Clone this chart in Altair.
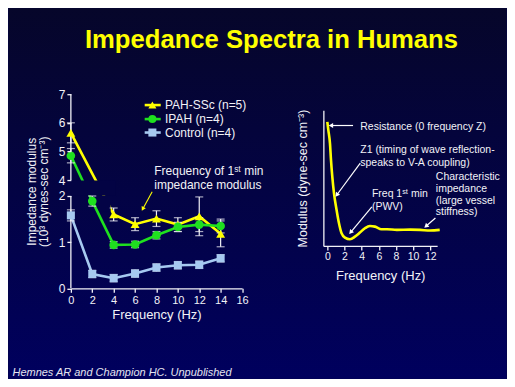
import math
import altair as alt
import pandas as pd

BG_MID = "#030344"
BG_TOP = "#06062a"
BG_BOT = "#00005e"
FONT = "Liberation Sans"
WHITE = "#f2f2f7"
C_SSC = "#ffff00"
C_IPAH = "#1fe01f"
C_CTRL = "#a6c9f0"

TITLE = "Impedance Spectra in Humans"
CITATION = "Hemnes AR and Champion HC.  Unpublished"

# ---------------- data: left chart (impedance modulus, 10^3 dynes-sec cm^-3) ----------------
ssc_f = [0, 4, 6, 8, 10, 12, 14]
ssc_v = [5.65, 1.60, 1.39, 1.51, 1.38, 1.56, 1.18]
ssc_e = [0.35, 0.14, 0.14, 0.17, 0.15, 0.42, 0.28]

ipah_f = [0, 2, 4, 6, 8, 10, 12, 14]
ipah_v = [4.85, 1.89, 0.94, 0.95, 1.15, 1.33, 1.38, 1.35]
ipah_e = [0.25, 0.11, 0.07, 0.07, 0.08, 0.10, 0.15, 0.15]

ctrl_f = [0, 2, 4, 6, 8, 10, 12, 14]
ctrl_v = [1.58, 0.31, 0.22, 0.32, 0.45, 0.50, 0.51, 0.65]
ctrl_e = [0.12, 0.08, 0.08, 0.08, 0.08, 0.08, 0.08, 0.08]

series_names = ["PAH-SSc (n=5)", "IPAH (n=4)", "Control (n=4)"]

# ---------------- data: right chart (schematic modulus spectrum) ----------------
z_f = [0, 0.12, 0.31, 0.43, 0.58, 0.78, 1.08, 1.36, 1.66, 2.06, 2.64, 3.22, 3.80,
       4.38, 4.97, 5.55, 6.31, 6.94, 8.1, 9.65, 10.8, 12.0, 13.1]
z_v = [9.14, 8.53, 7.55, 6.32, 5.10, 3.87, 2.65, 1.67, 0.93, 0.61, 0.49, 0.68, 0.98,
       1.30, 1.47, 1.42, 1.23, 1.23, 1.18, 1.20, 1.18, 1.13, 1.18]

# ---------------- left chart ----------------
LW, LH = 171.5, 194.5
y_dom = [0, 2, 4, 7]
y_rng = [194.5, 102, 86, 0]


def ypx_left(v):
    for i in range(len(y_dom) - 1):
        if y_dom[i] <= v <= y_dom[i + 1] or i == len(y_dom) - 2:
            t = (v - y_dom[i]) / (y_dom[i + 1] - y_dom[i])
            return y_rng[i] + t * (y_rng[i + 1] - y_rng[i])


def angle(x0, y0, x1, y1, xs, yf):
    dx = (x1 - x0) * xs
    dy = yf(y1) - yf(y0)
    return math.degrees(math.atan2(dx, -dy)) % 360


sxL = alt.Scale(domain=[0, 16], nice=False)
syL = alt.Scale(domain=y_dom, range=y_rng, nice=False, zero=False)
xL = alt.X("f:Q", scale=sxL,
           axis=alt.Axis(values=list(range(0, 17, 2)), tickCount=40, format="d", tickSize=4, labelPadding=2,
                         labelFontSize=11, labelFlush=False, labelOverlap=False, grid=False,
                         title="Frequency (Hz)", titleFontSize=13, titlePadding=3, zindex=1))
yL = alt.Y("v:Q", scale=syL,
           axis=alt.Axis(values=[0, 1, 2, 4, 5, 6, 7], tickCount=40, format="d", tickSize=4, labelPadding=2,
                         labelFontSize=12, labelOverlap=False, grid=False, domain=False,
                         title=["Impedance modulus", "(10³ dynes-sec cm⁻³)"],
                         titleFontSize=12, titlePadding=8, titleLineHeight=12, zindex=1))


def sdf(f, v, e):
    return pd.DataFrame({"f": f, "v": v,
                         "lo": [a - b for a, b in zip(v, e)],
                         "hi": [a + b for a, b in zip(v, e)]})


d_ssc, d_ipah, d_ctrl = sdf(ssc_f, ssc_v, ssc_e), sdf(ipah_f, ipah_v, ipah_e), sdf(ctrl_f, ctrl_v, ctrl_e)

one = pd.DataFrame({"k": [0]})
layers = []
# slide background (vertical gradient) covering the whole slide
grad = alt.LinearGradient(gradient="linear", x1=0, x2=0, y1=0, y2=1,
                          stops=[alt.GradientStop(color=BG_TOP, offset=0),
                                 alt.GradientStop(color=BG_BOT, offset=1)])
layers.append(alt.Chart(one).mark_rect(color=grad).encode(
    x=alt.value(-62.5), x2=alt.value(436.5), y=alt.value(-86), y2=alt.value(285)))

# slide title and citation
layers.append(alt.Chart(one).mark_text(text=TITLE, align="center", baseline="alphabetic", font=FONT,
                                       fontSize=25.7, fontWeight="bold", color="#ffff00").encode(
    x=alt.value(201), y=alt.value(-46)))
layers.append(alt.Chart(one).mark_text(text=CITATION, align="left", baseline="middle", font=FONT,
                                       fontSize=11, fontStyle="italic", color="#e4e4f0").encode(
    x=alt.value(-58.5), y=alt.value(279)))

# broken y-axis line (two segments)
ax_seg = pd.DataFrame({"f": [0, 0], "v": [0, 4], "v2": [2, 7]})
layers.append(alt.Chart(ax_seg).mark_rule(color=WHITE, strokeWidth=1.3).encode(x=xL, y=yL, y2="v2:Q"))

# series lines
layers.append(alt.Chart(d_ssc).mark_line(color=C_SSC, strokeWidth=2.6).encode(x=xL, y=yL))
# hide the part of the PAH-SSc line that runs below the break
mask2 = pd.DataFrame({"f": [2.0], "f2": [3.72], "v": [1.66], "v2": [2.06]})
layers.append(alt.Chart(mask2).mark_rect(color="#030346").encode(x=xL, x2="f2:Q", y=yL, y2="v2:Q"))
layers.append(alt.Chart(d_ipah).mark_line(color=C_IPAH, strokeWidth=2.6).encode(x=xL, y=yL))
layers.append(alt.Chart(d_ctrl).mark_line(color=C_CTRL, strokeWidth=2.6).encode(x=xL, y=yL))

# axis-break mask
mask = pd.DataFrame({"f": [-0.4], "f2": [4.2], "v": [2.06], "v2": [3.94]})
layers.append(alt.Chart(mask).mark_rect(color=BG_MID).encode(x=xL, x2="f2:Q", y=yL, y2="v2:Q"))

for d in [d_ssc, d_ipah, d_ctrl]:
    layers.append(alt.Chart(d).mark_rule(color=WHITE, strokeWidth=1.2).encode(
        x=xL, y=alt.Y("lo:Q", scale=syL), y2="hi:Q"))
    for col in ["lo", "hi"]:
        layers.append(alt.Chart(d).mark_tick(color=WHITE, orient="horizontal", size=8, thickness=1.2).encode(
            x=xL, y=alt.Y(f"{col}:Q", scale=syL)))

layers.append(alt.Chart(d_ssc).mark_point(shape="triangle-up", filled=True, opacity=1, size=80, color=C_SSC).encode(x=xL, y=yL))
layers.append(alt.Chart(d_ipah).mark_circle(opacity=1, size=75, color=C_IPAH).encode(x=xL, y=yL))
layers.append(alt.Chart(d_ctrl).mark_square(opacity=1, size=65, color=C_CTRL).encode(x=xL, y=yL))

# legend (drawn in plot coordinates)
leg_y = [6.62, 6.13, 5.66]
leg_c = [C_SSC, C_IPAH, C_CTRL]
leg_shape = ["triangle-up", "circle", "square"]
leg_lines = pd.DataFrame({"f": [6.9] * 3, "f2": [8.4] * 3, "m": [7.62] * 3, "t": [8.8] * 3,
                          "v": leg_y, "s": series_names})
for i in range(3):
    layers.append(alt.Chart(leg_lines.iloc[[i]]).mark_rule(color=leg_c[i], strokeWidth=2.6).encode(
        x=xL, x2="f2:Q", y=yL))
    layers.append(alt.Chart(leg_lines.iloc[[i]]).mark_point(
        shape=leg_shape[i], filled=True, opacity=1, size=65, color=leg_c[i]).encode(
        x=alt.X("m:Q", scale=sxL), y=yL))
layers.append(alt.Chart(leg_lines).mark_text(align="left", baseline="middle", fontSize=12,
                                              color=WHITE, font=FONT).encode(
    x=alt.X("t:Q", scale=sxL), y=yL, text="s:N"))

# annotation + arrow (left)
ann_l = pd.DataFrame({"f": [7.8, 7.8], "v": [4.31, 3.37],
                      "t": ["Frequency of 1ˢᵗ min", "impedance modulus"]})
layers.append(alt.Chart(ann_l).mark_text(align="left", baseline="middle", fontSize=12,
                                         color=WHITE, font=FONT).encode(x=xL, y=yL, text="t:N"))
arr_l = pd.DataFrame({"f": [7.6], "v": [2.54], "f2": [6.72], "v2": [1.72]})
arr_l["a"] = [angle(7.6, 2.54, 6.72, 1.72, 10.72, ypx_left)]
layers.append(alt.Chart(arr_l).mark_rule(color=C_SSC, strokeWidth=1.1).encode(x=xL, y=yL, x2="f2:Q", y2="v2:Q"))
layers.append(alt.Chart(arr_l).mark_point(shape="triangle-up", filled=True, opacity=1, size=22, color=C_SSC).encode(
    x=alt.X("f2:Q", scale=sxL), y=alt.Y("v2:Q", scale=syL), angle=alt.Angle("a:Q", scale=None)))

left = alt.layer(*layers).properties(width=LW, height=LH)

# ---------------- right chart ----------------
RW, RH = 114, 152
xs_r, ys_r = 8.62, 13.6
sxR = alt.Scale(domain=[-0.46, 12.8], nice=False, zero=False)
syR = alt.Scale(domain=[0, 10], range=[152, 16], nice=False, zero=False)
xR = alt.X("f:Q", scale=sxR,
           axis=alt.Axis(values=list(range(0, 13, 2)), tickCount=40, format="d", tickSize=4, labelPadding=2,
                         labelFontSize=10.5, labelFlush=False, labelOverlap=False, grid=False,
                         title="Frequency (Hz)", titleFontSize=13, titlePadding=7))
yR = alt.Y("v:Q", scale=syR,
           axis=alt.Axis(labels=False, ticks=False, grid=False, title="Modulus (dyne-sec cm⁻³)",
                         titleFontSize=12.5, titlePadding=14))

rl = [alt.Chart(pd.DataFrame({"f": z_f, "v": z_v})).mark_line(
    color=C_SSC, strokeWidth=2.6, interpolate="monotone").encode(x=xR, y=yR)]

arrows = pd.DataFrame({
    "f": [3.0, 3.84, 5.19, 12.6],
    "v": [8.87, 6.1, 2.87, 2.06],
    "f2": [0.42, 1.1, 2.72, 11.5],
    "v2": [8.87, 3.75, 1.0, 1.45],
})
arrows["a"] = [angle(r.f, r.v, r.f2, r.v2, xs_r, lambda y: -y * ys_r) for r in arrows.itertuples()]
rl.append(alt.Chart(arrows).mark_rule(color="white", strokeWidth=1.2).encode(x=xR, y=yR, x2="f2:Q", y2="v2:Q"))
rl.append(alt.Chart(arrows).mark_point(shape="triangle-up", filled=True, opacity=1, size=26, color="white").encode(
    x=alt.X("f2:Q", scale=sxR), y=alt.Y("v2:Q", scale=syR), angle=alt.Angle("a:Q", scale=None)))

ann_r = pd.DataFrame({
    "f": [3.84, 3.84, 3.84, 5.2, 5.2, 12.65, 12.65, 12.65, 12.65],
    "v": [8.75, 7.06, 6.1, 3.8, 2.87, 5.07, 4.19, 3.33, 2.5],
    "t": ["Resistance (0 frequency Z)", "Z1 (timing of wave reflection-", "speaks to V-A coupling)",
          "Freq 1ˢᵗ min", "(PWV)", "Characteristic", "impedance", "(large vessel", "stiffness)"],
})
rl.append(alt.Chart(ann_r).mark_text(align="left", baseline="middle", fontSize=10.5, color=WHITE,
                                     font=FONT).encode(x=xR, y=yR, text="t:N"))

right = alt.layer(*rl).properties(width=RW, height=RH)

chart = alt.hconcat(left, right, spacing=81, bounds="flush").configure(
    background=BG_MID, font=FONT, padding={"left": 0, "top": 0, "right": 0, "bottom": 0}
).configure_view(stroke=None
).configure_axis(domainColor=WHITE, tickColor=WHITE, labelColor=WHITE, titleColor=WHITE,
                 labelFont=FONT, titleFont=FONT, titleFontWeight="normal", domainWidth=1.3, tickWidth=1.3)

chart.save("out.html", embed_options={"renderer": "svg", "actions": False})
